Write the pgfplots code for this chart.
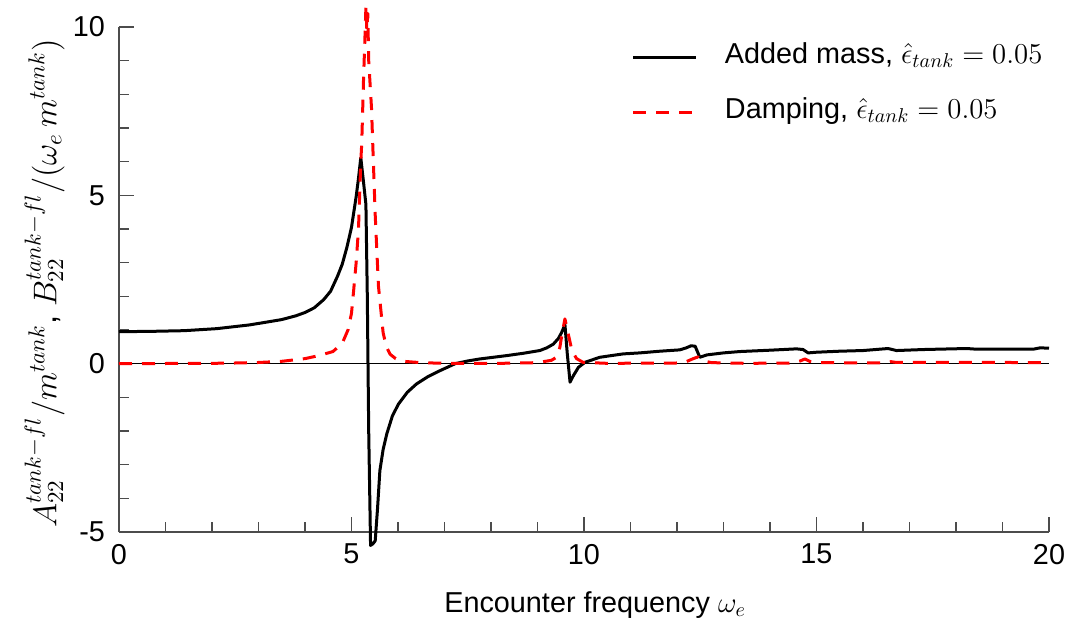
\RequirePackage{fix-cm}
\documentclass[border=0pt,12pt]{standalone}
\usepackage[no-math]{fontspec}
\setmainfont{Liberation Sans}
\usepackage{pgfplots}
\pgfplotsset{compat=1.18}

\pgfplotstableread{
x y
0 0.95
0.7 0.96
1.4 0.98
2.1 1.04
2.8 1.15
3.2 1.24
3.5 1.31
3.8 1.42
4.0 1.52
4.2 1.66
4.4 1.9
4.55 2.15
4.7 2.6
4.8 2.95
4.9 3.45
5.0 4.05
5.1 4.96
5.15 5.5
5.2 6.12
5.25 5.5
5.31 4.73
5.34 2.0
5.37 -2.0
5.41 -5.4
5.46 -5.35
5.51 -5.26
5.56 -4.3
5.61 -3.18
5.68 -2.55
5.76 -2.08
5.88 -1.55
6.01 -1.2
6.2 -0.85
6.4 -0.6
6.65 -0.38
6.9 -0.21
7.23 0.0
7.5 0.08
7.76 0.14
8.34 0.24
8.7 0.31
9.05 0.39
9.2 0.47
9.34 0.58
9.45 0.75
9.52 0.93
9.59 1.16
9.64 0.3
9.70 -0.55
9.77 -0.36
9.88 -0.11
10.02 0.04
10.34 0.19
10.84 0.29
11.2 0.32
11.63 0.37
12.06 0.41
12.2 0.47
12.3 0.53
12.39 0.52
12.49 0.19
12.64 0.26
13.0 0.32
13.35 0.36
14.0 0.40
14.57 0.44
14.71 0.42
14.82 0.32
15.0 0.34
15.49 0.37
16.0 0.39
16.54 0.45
16.72 0.39
17.3 0.42
18.23 0.45
18.44 0.43
19.0 0.43
19.66 0.43
19.81 0.47
20 0.46
}\addedmass

\pgfplotstableread{
x y
0 0.0
1.0 0.005
2.0 0.01
2.5 0.02
3.0 0.035
3.5 0.07
4.0 0.15
4.3 0.24
4.6 0.36
4.8 0.6
4.93 1.02
5.0 1.5
5.04 2.08
5.1 3.0
5.15 3.99
5.2 6.0
5.22 6.54
5.26 8.5
5.29 9.72
5.31 10.6
5.33 9.9
5.35 10.4
5.37 9.0
5.43 7.6
5.47 6.0
5.51 4.42
5.58 2.3
5.68 0.92
5.75 0.5
5.83 0.28
5.95 0.15
6.11 0.07
6.5 0.03
7.0 0.01
8.0 0.005
9.0 0.03
9.3 0.1
9.42 0.2
9.48 0.48
9.53 0.9
9.59 1.33
9.66 0.89
9.74 0.39
9.84 0.15
9.98 0.04
10.5 0.01
12.0 0.02
12.2 0.06
12.35 0.15
12.45 0.2
12.52 0.12
12.6 0.07
12.75 0.03
13.5 0.01
14.5 0.02
14.65 0.08
14.75 0.14
14.85 0.07
15.0 0.03
16.5 0.02
16.6 0.06
16.7 0.04
18.3 0.04
20 0.03
}\damping

\begin{document}
\fontsize{14.4}{17}\selectfont
\begin{tikzpicture}
\begin{axis}[
  scale only axis, width=465pt, height=252.5pt,
  xmin=0, xmax=20, ymin=-5, ymax=10,
  clip=false,
  axis x line*=bottom, axis y line*=left,
  axis line style={black!70, line width=0.8pt, -},
  tick align=inside,
  xtick={0,5,10,15,20}, xticklabels={0,5,10,15,20},
  ytick={-5,0,5,10}, yticklabels={-5,0,5,10},
  minor x tick num=4, minor y tick num=4,
  major tick length=7.5pt, minor tick length=5pt,
  tick style={black!70, line width=0.6pt},
  xticklabel style={yshift=-1pt},
  yticklabel style={xshift=-2pt},
  xlabel={Encounter frequency $\omega_e$},
  ylabel={$A_{22}^{tank-fl}/m^{tank}$, $B_{22}^{tank-fl}/(\omega_e\, m^{tank})$},
  xlabel style={at={(axis description cs:0.512,0)}, yshift=-40pt, anchor=base},
  ylabel style={at={(axis description cs:-0.08,0.492)}, anchor=center, font=\fontsize{16.4}{19}\selectfont},
  legend style={draw=none, fill=none, inner sep=0pt, outer sep=0pt,
    at={(axis description cs:0.5516,0.968)}, anchor=north west,
    row sep=13.5pt,
    nodes={inner sep=0pt, text height=10pt, text depth=4pt},
    /tikz/every odd column/.append style={column sep=13.5pt}},
  legend cell align=left,
  legend image code/.code={\draw (0pt,0pt) -- (31.5pt,0pt);},
]
\addplot[black, line width=0.5pt, forget plot] coordinates {(0,0) (20,0)};
\addplot[black, line width=1.5pt, line join=round] table[x=x,y=y] {\addedmass};
\addlegendentry{Added mass, $\hat{\epsilon}_{tank} = 0.05$}
\addplot[red, line width=1.5pt, dash pattern=on 6.5pt off 5pt, line join=round] table[x=x,y=y] {\damping};
\addlegendentry{Damping, $\hat{\epsilon}_{tank} = 0.05$}
\end{axis}
\pgfresetboundingbox
\path[use as bounding box] (-59.5pt,-45pt) rectangle (473.5pt,266pt);
\end{tikzpicture}
\end{document}
